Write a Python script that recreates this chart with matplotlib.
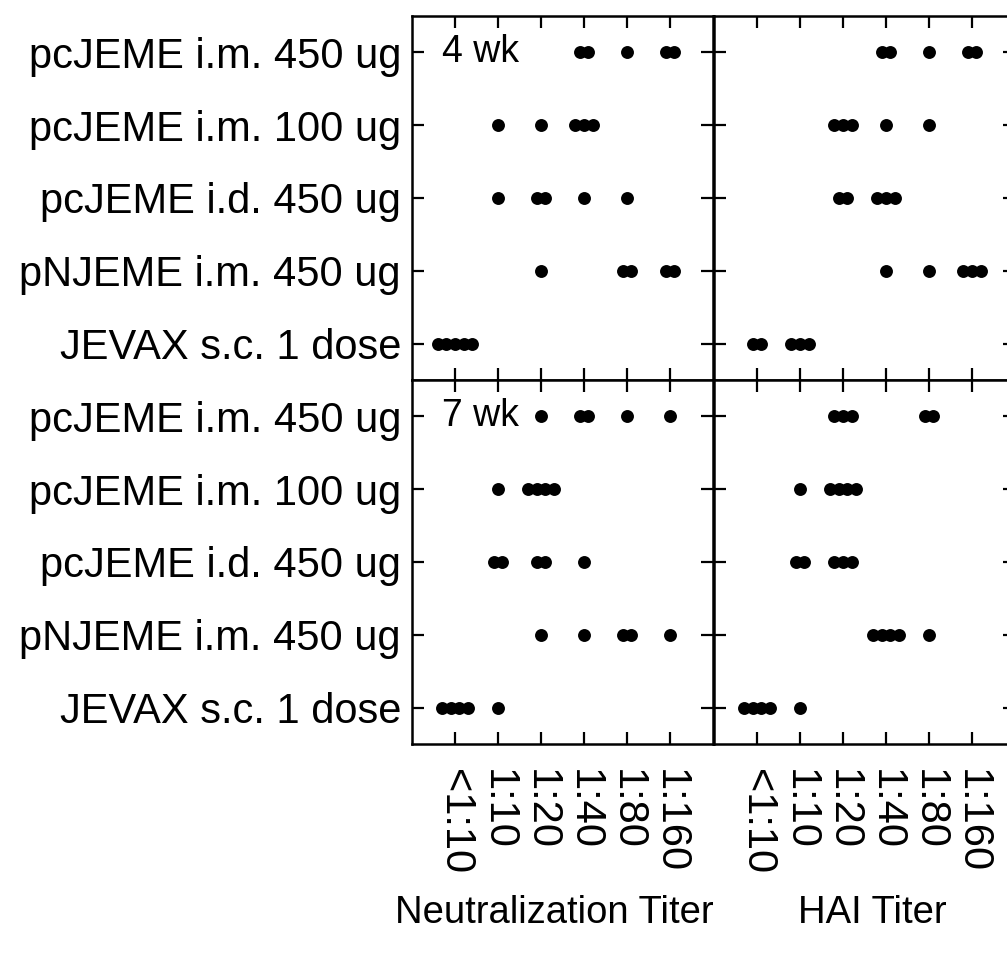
import matplotlib.pyplot as plt
import numpy as np

plt.rcParams['font.family'] = ['Liberation Sans', 'DejaVu Sans']

# groups listed top to bottom
groups = ["pcJEME i.m. 450 ug", "pcJEME i.m. 100 ug", "pcJEME i.d. 450 ug",
          "pNJEME i.m. 450 ug", "JEVAX s.c. 1 dose"]
titers = ["<1:10", "1:10", "1:20", "1:40", "1:80", "1:160"]

# number of animals at each titer, one row per group (same order as groups)
neut_4wk = [[0, 0, 0, 2, 1, 2],
            [0, 1, 1, 3, 0, 0],
            [0, 1, 2, 1, 1, 0],
            [0, 0, 1, 0, 2, 2],
            [5, 0, 0, 0, 0, 0]]
hai_4wk = [[0, 0, 0, 2, 1, 2],
           [0, 0, 3, 1, 1, 0],
           [0, 0, 2, 3, 0, 0],
           [0, 0, 0, 1, 1, 3],
           [2, 3, 0, 0, 0, 0]]
neut_7wk = [[0, 0, 1, 2, 1, 1],
            [0, 1, 4, 0, 0, 0],
            [0, 2, 2, 1, 0, 0],
            [0, 0, 1, 1, 2, 1],
            [4, 1, 0, 0, 0, 0]]
hai_7wk = [[0, 0, 3, 0, 2, 0],
           [0, 1, 4, 0, 0, 0],
           [0, 2, 3, 0, 0, 0],
           [0, 0, 0, 4, 1, 0],
           [4, 1, 0, 0, 0, 0]]

W, H = 1007, 955
fig = plt.figure(figsize=(W / 100, H / 100), dpi=100)

def px_axes(x0, y0, x1, y1):
    return fig.add_axes([x0 / W, 1 - y1 / H, (x1 - x0) / W, (y1 - y0) / H])

panels = [
    (px_axes(412, 16, 713, 380), neut_4wk, "4 wk", True, False),
    (px_axes(714, 16, 1015, 380), hai_4wk, None, False, False),
    (px_axes(412, 380, 713, 744), neut_7wk, "7 wk", True, True),
    (px_axes(714, 380, 1015, 744), hai_7wk, None, False, True),
]

ypos = np.arange(len(groups), 0, -1)
step = 0.2

for ax, counts, tag, show_y, show_x in panels:
    for row, y in zip(counts, ypos):
        for xi, n in enumerate(row):
            if n == 0:
                continue
            xs = xi + (np.arange(n) - (n - 1) / 2) * step
            ax.plot(xs, [y] * n, 'o', color='black', markersize=9.3,
                    markeredgewidth=0)
    ax.set_xlim(-1, 6)
    ax.set_ylim(0.5, 5.5)
    ax.set_xticks(range(len(titers)))
    ax.set_yticks(ypos)
    ax.tick_params(direction='in', length=8.5, width=1.6, top=True, right=True,
                   labelsize=30, pad=18)
    if show_y:
        ax.set_yticklabels(groups)
        ax.tick_params(axis='y', pad=8)
    else:
        ax.set_yticklabels([])
    if show_x:
        ax.set_xticklabels(titers, rotation=270)
    else:
        ax.set_xticklabels([])
    for s in ax.spines.values():
        s.set_linewidth(1.8)
    if tag:
        ax.text(-0.3, 5, tag, fontsize=27, va='center', ha='left')

fig.text(554 / W, 1 - 913 / H, "Neutralization Titer", fontsize=27.5,
         ha='center', va='center')
fig.text(872 / W, 1 - 913 / H, "HAI Titer", fontsize=27.5,
         ha='center', va='center')

fig.savefig("out.png", dpi=100)
